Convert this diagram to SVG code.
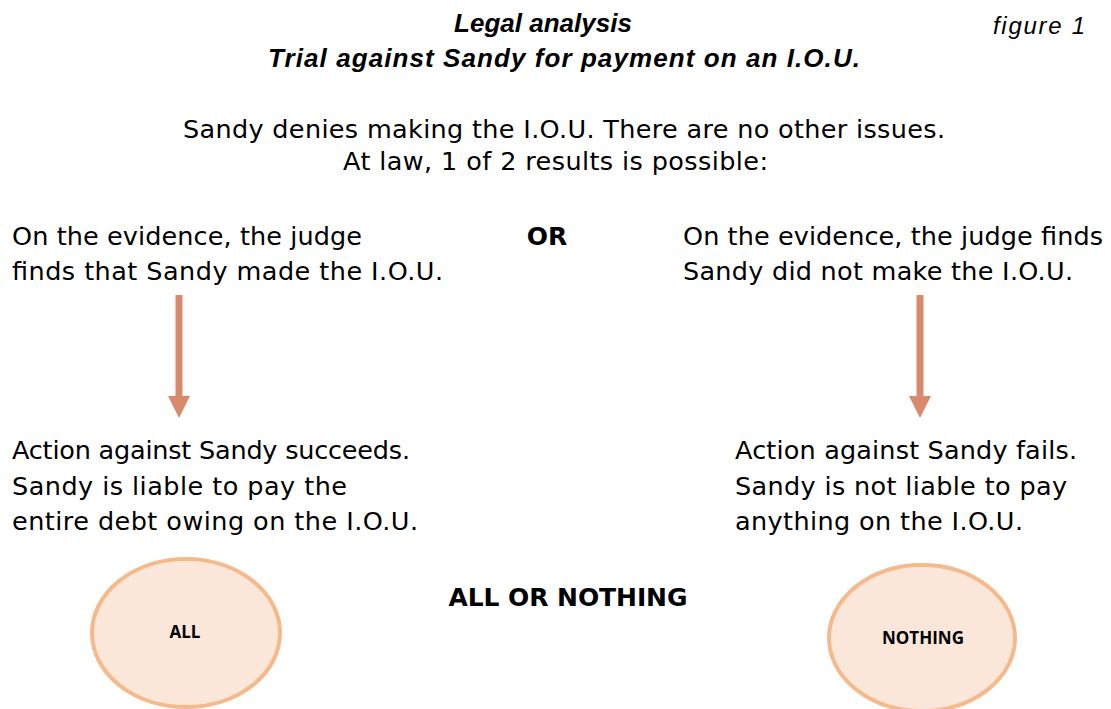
<svg xmlns="http://www.w3.org/2000/svg" width="1111" height="709" viewBox="0 0 1111 709">
<defs>
<style>
.t{font-family:"Liberation Sans",Arial,sans-serif;font-weight:bold;font-style:italic;font-size:26px;fill:#000}
.fig{font-family:"Liberation Sans",Arial,sans-serif;font-style:italic;font-size:24px;fill:#000}
.h{font-family:"DejaVu Sans","Open Sans",sans-serif;font-size:25.5px;fill:#000}
.hb{font-family:"DejaVu Sans","Open Sans",sans-serif;font-weight:bold;font-size:25px;fill:#000}
.c{font-family:"Open Sans","Lato",sans-serif;font-weight:bold;font-size:17px;fill:#000}
.ell{fill:#FBE7DA;stroke:#F5BA8C;stroke-width:4}
.arr{stroke:#D98A6C;stroke-width:7;fill:none}
</style>
<marker id="ah" markerUnits="userSpaceOnUse" markerWidth="24" markerHeight="24" viewBox="0 0 24 24" refX="2" refY="12" orient="auto">
<path d="M0,1 L22,12 L0,23 Z" fill="#D98A6C"/>
</marker>
</defs>
<rect width="1111" height="709" fill="#fff"/>
<g id="title">
<text class="t" x="543" y="32" text-anchor="middle">Legal analysis</text>
<text class="t" x="564" y="67" text-anchor="middle" textLength="592">Trial against Sandy for payment on an I.O.U.</text>
<text class="fig" x="993" y="34" textLength="92">figure 1</text>
</g>
<g id="premise">
<text class="h" x="183" y="138" textLength="762">Sandy denies making the I.O.U.  There are no other issues.</text>
<text class="h" x="343" y="170" textLength="425">At law, 1 of 2 results is possible:</text>
</g>
<g id="finding-made">
<text class="h" x="12" y="245" textLength="350">On the evidence, the judge</text>
<text class="h" x="12" y="280" textLength="431">finds that Sandy made the I.O.U.</text>
</g>
<g id="or">
<text class="hb" x="547" y="245" text-anchor="middle">OR</text>
</g>
<g id="finding-not-made">
<text class="h" x="683" y="245" textLength="420">On the evidence, the judge finds</text>
<text class="h" x="683" y="280" textLength="390">Sandy did not make the I.O.U.</text>
</g>
<g id="result-succeeds">
<text class="h" x="12" y="459" textLength="398">Action against Sandy succeeds.</text>
<text class="h" x="12" y="495" textLength="335">Sandy is liable to pay the</text>
<text class="h" x="12" y="530" textLength="406">entire debt owing on the I.O.U.</text>
</g>
<g id="result-fails">
<text class="h" x="735" y="459" textLength="342">Action against Sandy fails.</text>
<text class="h" x="735" y="495" textLength="332">Sandy is not liable to pay</text>
<text class="h" x="735" y="530" textLength="288">anything on the I.O.U.</text>
</g>
<g id="all-or-nothing">
<text class="hb" x="568" y="606" text-anchor="middle" textLength="239">ALL OR NOTHING</text>
</g>
<g id="all">
<ellipse class="ell" cx="186" cy="633" rx="94" ry="74"/>
<text class="c" x="185" y="638" text-anchor="middle">ALL</text>
</g>
<g id="nothing">
<ellipse class="ell" cx="922" cy="638" rx="93" ry="73"/>
<text class="c" x="923" y="644" text-anchor="middle">NOTHING</text>
</g>
<g id="connectors">
<line class="arr" x1="179" y1="295" x2="179" y2="398" marker-end="url(#ah)"/>
<line class="arr" x1="920" y1="295" x2="920" y2="398" marker-end="url(#ah)"/>
</g>
</svg>
